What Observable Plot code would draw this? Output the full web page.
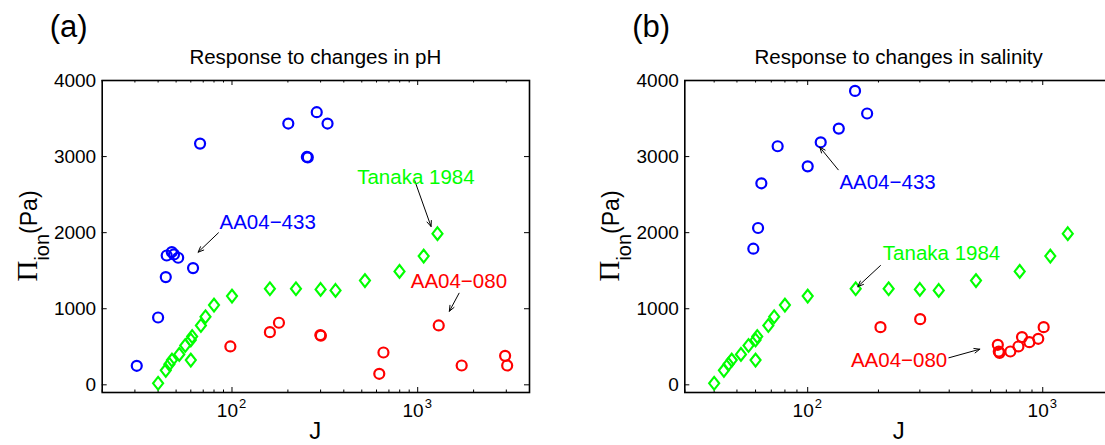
<!DOCTYPE html>
<html><head><meta charset="utf-8">
<script src="https://cdn.jsdelivr.net/npm/d3@7"></script>
<script src="https://cdn.jsdelivr.net/npm/@observablehq/plot@0.6"></script>
<style>
html,body{margin:0;padding:0;background:#fff;overflow:hidden;}
#wrap{position:relative;width:1105px;height:445px;overflow:hidden;background:#fff;}
#wrap svg{position:absolute;top:0;overflow:visible;}
</style></head><body><div id="wrap"></div>
<script>
// ---------------- data ----------------
const panelLetters = ["(a)", "(b)"];
const panelTitles = ["Response to changes in pH", "Response to changes in salinity"];
const yTicks = [0, 1000, 2000, 3000, 4000];
const yDomain = [-101, 4000];
const xMajorTicks = [100, 1000];
const xDomainPH = [20, 4000];
const xDomainSal = [30, 2000];
const xMinorPH = [20,30,40,50,60,70,80,90,200,300,400,500,600,700,800,900,2000,3000,4000];
const xMinorSal = [30,40,50,60,70,80,90,200,300,400,500,600,700,800,900,2000];

// Tanaka 1984 (same in both panels)
const tanakaJ = [40, 44, 46, 47.5, 52, 56, 60, 61, 60, 68, 72, 80, 100, 160, 221, 300, 361, 520, 798, 1077, 1278];
const tanakaP = [20, 190, 270, 325, 400, 517, 590, 635, 325, 780, 895, 1048, 1166, 1263, 1263, 1254, 1241, 1370, 1491, 1692, 1987];

// pH panel
const ph433J = [30.7, 40, 44, 44.5, 47.4, 48.7, 51.3, 61.7, 67.3, 201, 253, 256, 286, 327];
const ph433P = [250, 885, 1416, 1700, 1745, 1714, 1670, 1534, 3171, 3434, 2995, 2990, 3583, 3434];
const ph080J = [98, 160, 179, 299, 301, 621, 654, 1298, 1725, 2956, 3033];
const ph080P = [504, 692, 816, 655, 645, 145, 425, 780, 254, 381, 254];

// salinity panel
const sal433J = [58.7, 61.5, 63.5, 74.5, 100, 113.6, 135.6, 159, 179];
const sal433P = [1789, 2061, 2649, 3136, 2872, 3188, 3368, 3863, 3566];
const sal080J = [204, 301, 644, 650, 655, 728, 788, 816, 877, 957, 1009];
const sal080P = [758, 863, 526, 438, 420, 438, 504, 627, 561, 605, 758];

// annotations (text centre and arrow, in data units)
const notesPH = [
  {label: "AA04−433", color: "#0000ff", tx: 155.6, ty: 2133, x1: 84.5, y1: 1998, x2: 65.7, y2: 1743},
  {label: "Tanaka 1984", color: "#00ff00", tx: 978, ty: 2729, x1: 963.6, y1: 2685, x2: 1180, y2: 2081},
  {label: "AA04−080", color: "#ff0000", tx: 1666, ty: 1362, x1: 1670, y1: 1204, x2: 1481, y2: 967}
];
const notesSal = [
  {label: "AA04−433", color: "#0000ff", tx: 218.6, ty: 2663, x1: 134.9, y1: 2826, x2: 112.6, y2: 3123},
  {label: "Tanaka 1984", color: "#00ff00", tx: 371, ty: 1730, x1: 204, y1: 1568, x2: 163.4, y2: 1292},
  {label: "AA04−080", color: "#ff0000", tx: 244.7, ty: 319, x1: 398.6, y1: 355, x2: 539.8, y2: 468}
];

// ---------------- drawing ----------------
const FONT = "'Liberation Sans', Arial, Helvetica, sans-serif";
const BLUE = "#0000ff", GREEN = "#00ff00", RED = "#ff0000";
const rows = (J, P) => J.map((j, i) => ({J: j, P: P[i]}));
const diamond = {
  draw(ctx, size) {
    const r = Math.sqrt(size / Math.PI);
    const h = r * 1.2, w = r * 0.95;
    ctx.moveTo(0, -h); ctx.lineTo(w, 0); ctx.lineTo(0, h); ctx.lineTo(-w, 0); ctx.closePath();
  }
};
const sup = {100: "2", 1000: "3"};

function panel({left, width, mLeft, mRight, xDomain, xMinor, blue, red, notes, idx}) {
  const H = 445, mTop = 80, mBottom = 53;
  const fw = width - mLeft - mRight, fh = H - mTop - mBottom;
  const svg = Plot.plot({
    width, height: H, marginLeft: mLeft, marginRight: mRight, marginTop: mTop, marginBottom: mBottom,
    style: {fontFamily: FONT, fontSize: "19px", color: "#000", background: "transparent", overflow: "visible"},
    x: {type: "log", domain: xDomain, axis: null},
    y: {domain: yDomain, axis: null},
    color: {type: "identity"},
    marks: [
      // y ticks (inside, left and right)
      Plot.tickY(yTicks, {y: d => d, insetRight: fw - 5, stroke: "#000", strokeWidth: 1}),
      Plot.tickY(yTicks, {y: d => d, insetLeft: fw - 5, stroke: "#000", strokeWidth: 1}),
      // x ticks (inside, bottom and top)
      Plot.tickX(xMajorTicks, {x: d => d, insetTop: fh - 5, stroke: "#000", strokeWidth: 1}),
      Plot.tickX(xMajorTicks, {x: d => d, insetBottom: fh - 5, stroke: "#000", strokeWidth: 1}),
      Plot.tickX(xMinor, {x: d => d, insetTop: fh - 2.5, stroke: "#000", strokeWidth: 1}),
      Plot.tickX(xMinor, {x: d => d, insetBottom: fh - 2.5, stroke: "#000", strokeWidth: 1}),
      // tick labels
      Plot.text(yTicks, {y: d => d, frameAnchor: "left", dx: -6, textAnchor: "end", text: d => String(d), fontSize: 19, fill: "#000"}),
      Plot.text(xMajorTicks, {x: d => d, frameAnchor: "bottom", dx: 6, dy: 11, lineAnchor: "top", textAnchor: "end", text: () => "10", fontSize: 19, fill: "#000"}),
      Plot.text(xMajorTicks, {x: d => d, frameAnchor: "bottom", dx: 7, dy: 6, lineAnchor: "top", textAnchor: "start", text: d => sup[d], fontSize: 13, fill: "#000"}),
      // data
      Plot.dot(rows(tanakaJ, tanakaP), {x: "J", y: "P", r: 5.3, symbol: diamond, stroke: GREEN, strokeWidth: 2.1, fill: "none"}),
      Plot.dot(blue, {x: "J", y: "P", r: 5, stroke: BLUE, strokeWidth: 2.2, fill: "none"}),
      Plot.dot(red, {x: "J", y: "P", r: 5, stroke: RED, strokeWidth: 2.2, fill: "none"}),
      // annotations
      Plot.arrow(notes, {x1: "x1", y1: "y1", x2: "x2", y2: "y2", stroke: "#000", strokeWidth: 1, headLength: 9, headAngle: 45}),
      Plot.text(notes, {x: "tx", y: "ty", text: "label", fill: "color", fontSize: 20.5, textAnchor: "middle"}),
      Plot.frame({stroke: "#000", strokeWidth: 1.6})
    ]
  });
  svg.style.left = left + "px";
  const s = d3.select(svg);
  const cx = mLeft + fw / 2;
  // title
  s.append("text").attr("x", cx).attr("y", 64).attr("text-anchor", "middle")
    .attr("font-family", FONT).attr("font-size", 20.5).attr("fill", "#000").text(panelTitles[idx]);
  // panel letter
  s.append("text").attr("x", mLeft - 52).attr("y", 37).attr("text-anchor", "start")
    .attr("font-family", FONT).attr("font-size", 31).attr("fill", "#000").text(panelLetters[idx]);
  // x label
  s.append("text").attr("x", cx).attr("y", 439).attr("text-anchor", "middle")
    .attr("font-family", FONT).attr("font-size", 24).attr("fill", "#000").text("J");
  // y label
  const yl = s.append("text").attr("transform", `translate(${mLeft - 65},${mTop + fh / 2}) rotate(-90)`)
    .attr("text-anchor", "middle").attr("font-family", FONT).attr("fill", "#000");
  yl.append("tspan").attr("font-family", "'Liberation Serif', 'Times New Roman', serif").attr("font-size", 29).text("Π");
  yl.append("tspan").attr("font-size", 20).attr("dy", 12).text("ion");
  yl.append("tspan").attr("font-size", 23).attr("dy", -12).text("(Pa)");
  return svg;
}

const wrap = document.getElementById("wrap");
wrap.appendChild(panel({left: 0, width: 552, mLeft: 101.7, mRight: 23, xDomain: xDomainPH, xMinor: xMinorPH,
  blue: rows(ph433J, ph433P), red: rows(ph080J, ph080P), notes: notesPH, idx: 0}));
wrap.appendChild(panel({left: 552, width: 571, mLeft: 132.3, mRight: 10, xDomain: xDomainSal, xMinor: xMinorSal,
  blue: rows(sal433J, sal433P), red: rows(sal080J, sal080P), notes: notesSal, idx: 1}));
</script></body></html>
